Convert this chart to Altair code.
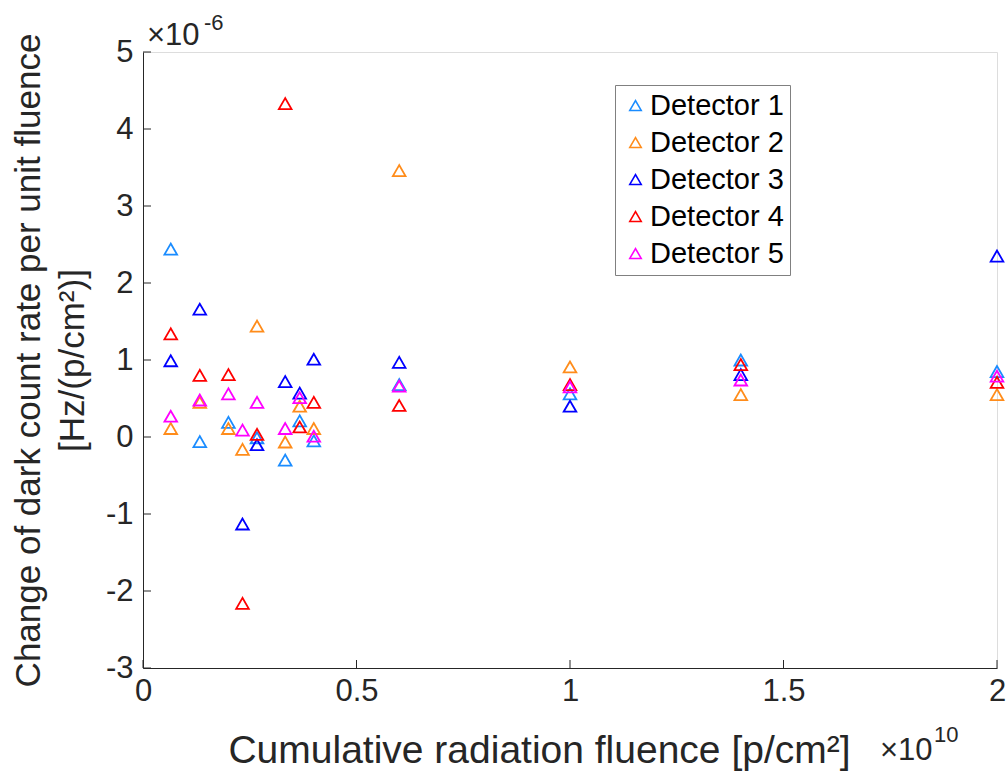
import altair as alt
import pandas as pd

# ---- data (y in units of 1e-6, x in units of 1e10) ----
fluence = [0.065, 0.133, 0.2, 0.233, 0.267, 0.333, 0.367, 0.4, 0.6, 1.0, 1.4, 2.0]
detector_names = ["Detector 1", "Detector 2", "Detector 3", "Detector 4", "Detector 5"]
det1 = [2.44, -0.06, 0.19, None, -0.01, -0.30, 0.21, -0.05, 0.68, 0.56, 1.00, 0.85]
det2 = [0.11, 0.45, 0.11, -0.16, 1.44, -0.065, 0.40, 0.11, 3.46, 0.91, 0.55, 0.55]
det3 = [0.99, 1.66, None, -1.13, -0.10, 0.72, 0.57, 1.01, 0.97, 0.40, 0.81, 2.35]
det4 = [1.34, 0.80, 0.81, -2.16, 0.035, 4.33, 0.13, 0.45, 0.41, 0.68, 0.94, 0.71]
det5 = [0.27, 0.48, 0.56, 0.09, 0.45, 0.11, 0.51, 0.01, 0.66, 0.65, 0.74, 0.79]
colors = ["#1A8CFF", "#FF8C1A", "#0000FF", "#FF0000", "#FF00FF"]

x_ticks = [0, 0.5, 1, 1.5, 2]
y_ticks = [-3, -2, -1, 0, 1, 2, 3, 4, 5]
x_title = "Cumulative radiation fluence [p/cm²]"
y_title = ["Change of dark count rate per unit fluence", "[Hz/(p/cm²)]"]
x_exp_base, x_exp = "×10", "10"
y_exp_base, y_exp = "×10", "-6"

rows = []
for i, (name, vals) in enumerate(zip(detector_names, [det1, det2, det3, det4, det5])):
    for xv, yv in zip(fluence, vals):
        if yv is not None:
            rows.append({"detector": name, "fluence": xv, "rate": yv, "k": i})
df = pd.DataFrame(rows)

W, H = 854, 616
FONT = "Liberation Sans"
DARK = "#262626"

x_scale = alt.Scale(domain=[0, 2], nice=False, zero=False)
y_scale = alt.Scale(domain=[-3, 5], nice=False, zero=False)

x_axis = alt.Axis(
    values=x_ticks, labelExpr="'' + datum.value", labelFontSize=31, labelColor=DARK,
    labelFont=FONT, labelPadding=8, labelFlush=False, labelOverlap=False,
    ticks=False, grid=False, domainColor=DARK, domainWidth=1,
    title=x_title, titleFont=FONT, titleFontSize=39, titleFontWeight="normal",
    titleColor=DARK, titleX=396, titleY=94, titleAlign="center",
    titleBaseline="alphabetic")
y_axis = alt.Axis(
    values=y_ticks, labelExpr="'' + datum.value", labelFontSize=31, labelColor=DARK,
    labelFont=FONT, labelPadding=10, labelFlush=False, labelOverlap=False,
    ticks=False, grid=False, domainColor=DARK, domainWidth=1,
    title=y_title, titleFont=FONT, titleFontSize=35, titleFontWeight="normal",
    titleColor=DARK, titleAngle=270, titleX=-115, titleY=308, titleAlign="center",
    titleBaseline="middle", titleLineHeight=44)

points = alt.Chart(df).mark_point(
    shape="triangle-up", filled=False, size=160, strokeWidth=1.8, opacity=1
).encode(
    x=alt.X("fluence:Q", scale=x_scale, axis=x_axis),
    y=alt.Y("rate:Q", scale=y_scale, axis=y_axis),
    color=alt.Color("detector:N", scale=alt.Scale(domain=detector_names, range=colors),
                    legend=alt.Legend(
                        title=None, orient="none", legendX=472, legendY=33,
                        padding=6, strokeColor="#808080", fillColor="white",
                        labelFont=FONT, labelFontSize=29, labelColor="black",
                        labelOffset=0, symbolType="triangle-up", symbolSize=130,
                        symbolStrokeWidth=1.6, rowPadding=7)),
    order=alt.Order("k:Q"),
)

ytick_df = pd.DataFrame({"rate": y_ticks})
xtick_df = pd.DataFrame({"fluence": x_ticks})

yticks = alt.Chart(ytick_df).mark_rule(color=DARK, strokeWidth=1).encode(
    y=alt.Y("rate:Q", scale=y_scale, axis=y_axis),
    x=alt.value(0), x2=alt.value(8),
)
xticks = alt.Chart(xtick_df).mark_rule(color=DARK, strokeWidth=1).encode(
    x=alt.X("fluence:Q", scale=x_scale, axis=x_axis),
    y=alt.value(H), y2=alt.value(H - 8),
)

def label(text, x, y, size):
    return alt.Chart(pd.DataFrame({"t": [text]})).mark_text(
        font=FONT, fontSize=size, color=DARK, align="left", baseline="alphabetic"
    ).encode(text="t:N", x=alt.value(x), y=alt.value(y))

texts = [
    label(y_exp_base, 4, -7, 31),
    label(y_exp, 61, -22, 22),
    label(x_exp_base, 737, 708, 31),
    label(x_exp, 791, 690, 22),
]

chart = alt.layer(points, yticks, xticks, *texts).properties(
    width=W, height=H,
    padding={"left": 143, "top": 52, "right": 10, "bottom": 106},
    autosize=alt.AutoSizeParams(type="none"),
).configure_view(strokeWidth=0, stroke="transparent").configure(font=FONT)

chart.save("out.html", embed_options={"renderer": "svg", "actions": False})
